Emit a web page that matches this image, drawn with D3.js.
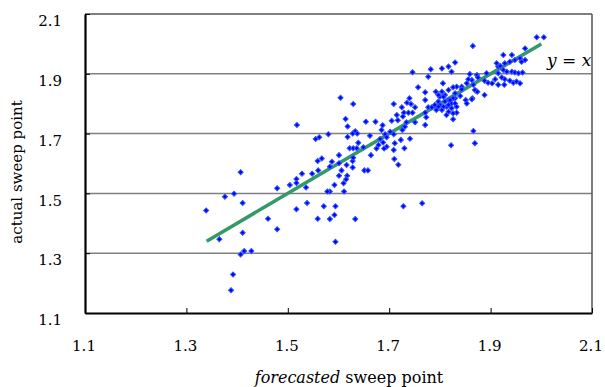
<!DOCTYPE html>
<html>
<head>
<meta charset="utf-8">
<script src="https://cdn.jsdelivr.net/npm/d3@7"></script>
<style>
  body { margin: 0; background: #fff; }
  text { font-family: "DejaVu Serif", "Liberation Serif", serif; }
</style>
</head>
<body>
<div id="chart"></div>
<script>
// forecasted vs actual sweep point
const forecasted = [
  1.407, 1.376, 1.394, 1.411, 1.339, 1.479, 1.504, 1.517, 1.517, 1.528,
  1.548, 1.560, 1.536, 1.538, 1.517, 1.559, 1.461, 1.479, 1.411, 1.365,
  1.407, 1.414, 1.428, 1.392, 1.388, 1.518, 1.555, 1.559, 1.562, 1.580,
  1.587, 1.583, 1.628, 1.628, 1.606, 1.601, 1.617, 1.615, 1.610, 1.592,
  1.583, 1.578, 1.611, 1.651, 1.658, 1.718, 1.571, 1.594, 1.592, 1.583,
  1.633, 1.594, 1.728, 1.765, 1.746, 1.782, 1.777, 1.757, 1.771, 1.792,
  1.771, 1.797, 1.604, 1.629, 1.709, 1.740, 1.735, 1.743, 1.751, 1.777,
  1.784, 1.725, 1.729, 1.738, 1.746, 1.715, 1.705, 1.717, 1.727, 1.734,
  1.751, 1.771, 1.773, 1.771, 1.614, 1.654, 1.673, 1.687, 1.618, 1.633,
  1.637, 1.628, 1.662, 1.685, 1.692, 1.702, 1.709, 1.726, 1.731, 1.741,
  1.682, 1.695, 1.618, 1.688, 1.679, 1.695, 1.711, 1.723, 1.639, 1.622,
  1.629, 1.636, 1.649, 1.675, 1.690, 1.709, 1.730, 1.601, 1.664, 1.710,
  1.629, 1.567, 1.601, 1.616, 1.865, 1.804, 1.817, 1.830, 1.823, 1.859,
  1.873, 1.863, 1.912, 1.915, 1.806, 1.833, 1.843, 1.853, 1.866, 1.888,
  1.871, 1.800, 1.810, 1.817, 1.823, 1.830, 1.800, 1.813, 1.833, 1.851,
  1.864, 1.853, 1.866, 1.869, 1.822, 1.991, 2.005, 1.968, 1.958, 1.925,
  1.942, 1.919, 1.928, 1.938, 1.948, 1.961, 1.968, 1.925, 1.932, 1.942,
  1.948, 1.955, 1.963, 1.915, 1.922, 1.928, 1.938, 1.945, 1.909, 1.915,
  1.927, 1.951, 1.958, 1.892, 1.856, 1.875, 1.888, 1.895, 1.903, 1.869,
  1.874, 1.804, 1.817, 1.826, 1.843, 1.830, 1.840, 1.863, 1.797, 1.807,
  1.826, 1.810, 1.820, 1.830, 1.797, 1.807, 1.817, 1.823, 1.833, 1.804,
  1.817, 1.826, 1.813, 1.826, 1.790, 1.793
];
const actual = [
  1.571, 1.489, 1.499, 1.468, 1.443, 1.517, 1.528, 1.548, 1.535, 1.566,
  1.566, 1.577, 1.520, 1.468, 1.447, 1.415, 1.415, 1.380, 1.368, 1.347,
  1.296, 1.307, 1.307, 1.229, 1.176, 1.729, 1.682, 1.608, 1.688, 1.698,
  1.606, 1.589, 1.608, 1.587, 1.577, 1.559, 1.559, 1.547, 1.534, 1.528,
  1.506, 1.506, 1.506, 1.577, 1.577, 1.596, 1.457, 1.457, 1.428, 1.414,
  1.414, 1.338, 1.457, 1.467, 1.905, 1.915, 1.890, 1.855, 1.838, 1.840,
  1.812, 1.807, 1.820, 1.799, 1.799, 1.818, 1.803, 1.799, 1.788, 1.788,
  1.788, 1.788, 1.770, 1.770, 1.770, 1.762, 1.743, 1.745, 1.757, 1.738,
  1.738, 1.770, 1.755, 1.729, 1.749, 1.740, 1.740, 1.728, 1.724, 1.708,
  1.700, 1.700, 1.693, 1.712, 1.698, 1.706, 1.698, 1.712, 1.723, 1.683,
  1.682, 1.688, 1.689, 1.670, 1.662, 1.656, 1.668, 1.679, 1.669, 1.651,
  1.651, 1.651, 1.654, 1.650, 1.650, 1.645, 1.651, 1.628, 1.628, 1.615,
  1.619, 1.617, 1.601, 1.595, 1.993, 1.918, 1.924, 1.938, 1.907, 1.899,
  1.896, 1.879, 1.935, 1.924, 1.868, 1.857, 1.857, 1.868, 1.863, 1.829,
  1.843, 1.823, 1.829, 1.812, 1.801, 1.818, 1.796, 1.790, 1.770, 1.812,
  1.818, 1.801, 1.709, 1.668, 1.661, 2.022, 2.022, 1.985, 1.952, 1.963,
  1.963, 1.926, 1.935, 1.940, 1.946, 1.940, 1.946, 1.913, 1.907, 1.907,
  1.904, 1.902, 1.904, 1.902, 1.888, 1.882, 1.877, 1.870, 1.882, 1.863,
  1.863, 1.874, 1.868, 1.902, 1.882, 1.888, 1.877, 1.870, 1.868, 1.846,
  1.840, 1.840, 1.846, 1.855, 1.848, 1.835, 1.826, 1.815, 1.829, 1.823,
  1.818, 1.807, 1.812, 1.801, 1.790, 1.790, 1.796, 1.785, 1.790, 1.779,
  1.773, 1.768, 1.762, 1.748, 1.796, 1.779
];
const refLine = [1.34, 2.0];               // y = x segment
const tickValues = [1.1, 1.3, 1.5, 1.7, 1.9, 2.1];
const gridValues = [1.3, 1.5, 1.7, 1.9];

const W = 605, H = 387;
const svg = d3.select("#chart").append("svg")
  .attr("width", W).attr("height", H);

const x = d3.scaleLinear().domain([1.1, 2.1]).range([85, 592]);
const y = d3.scaleLinear().domain([1.1, 2.1]).range([313, 14]);

// gridlines
svg.append("g").selectAll("line")
  .data(gridValues)
  .enter().append("line")
  .attr("x1", x(1.1)).attr("x2", x(2.1))
  .attr("y1", d => y(d)).attr("y2", d => y(d))
  .attr("stroke", "#808080")
  .attr("stroke-width", 1.5);

// top and right border
svg.append("line")
  .attr("x1", x(1.1)).attr("x2", x(2.1))
  .attr("y1", y(2.1)).attr("y2", y(2.1))
  .attr("stroke", "#000").attr("stroke-width", 1.2);
svg.append("line")
  .attr("x1", x(2.1)).attr("x2", x(2.1))
  .attr("y1", y(2.1)).attr("y2", y(1.1))
  .attr("stroke", "#555").attr("stroke-width", 1.5);

// axes, ticks pointing inward
const fmt = d3.format(".1f");
const xAxis = svg.append("g")
  .attr("transform", "translate(0," + y(1.1) + ")")
  .call(d3.axisBottom(x).tickValues(tickValues).tickFormat(fmt)
    .tickSize(-5).tickSizeOuter(0).tickPadding(27));
const yAxis = svg.append("g")
  .attr("transform", "translate(" + x(1.1) + ",0)")
  .call(d3.axisLeft(y).tickValues(tickValues).tickFormat(fmt)
    .tickSize(-5).tickSizeOuter(0).tickPadding(23));

[xAxis, yAxis].forEach(g => {
  g.select(".domain").attr("stroke", "#000").attr("stroke-width", 2.2);
  g.selectAll(".tick line").attr("stroke", "#000").attr("stroke-width", 1);
  g.selectAll(".tick text")
    .attr("fill", "#000")
    .style("font-family", "'DejaVu Serif', serif")
    .style("font-size", "15px");
});
yAxis.selectAll(".tick text").attr("dy", "0.78em");
xAxis.selectAll(".tick text").attr("dx", "-0.1em");

// reference line y = x
svg.append("path")
  .datum(refLine)
  .attr("fill", "none")
  .attr("stroke", "#339966")
  .attr("stroke-width", 3.5)
  .attr("d", d3.line().x(d => x(d)).y(d => y(d)));

// scatter points
const diamond = d3.symbol().type(d3.symbolSquare).size(13);
svg.append("g").selectAll("path")
  .data(forecasted.map((f, i) => [f, actual[i]]))
  .enter().append("path")
  .attr("d", diamond)
  .attr("transform", d => "translate(" + x(d[0]) + "," + y(d[1]) + ") rotate(45)")
  .attr("fill", "#0000ff")
  .attr("stroke", "#3355ff")
  .attr("stroke-width", 1);

// y = x label
const lbl = svg.append("text")
  .attr("x", 547).attr("y", 66)
  .style("font-size", "17px");
lbl.append("tspan").style("font-style", "italic").text("y");
lbl.append("tspan").text(" = ");
lbl.append("tspan").style("font-style", "italic").text("x");

// axis titles
svg.append("text")
  .attr("transform", "translate(22,172) rotate(-90)")
  .attr("text-anchor", "middle")
  .style("font-size", "15px")
  .text("actual sweep point");

const xt = svg.append("text")
  .attr("x", 349).attr("y", 383)
  .attr("text-anchor", "middle")
  .style("font-size", "16px");
xt.append("tspan").style("font-style", "italic").text("forecasted");
xt.append("tspan").text(" sweep point");
</script>
</body>
</html>
